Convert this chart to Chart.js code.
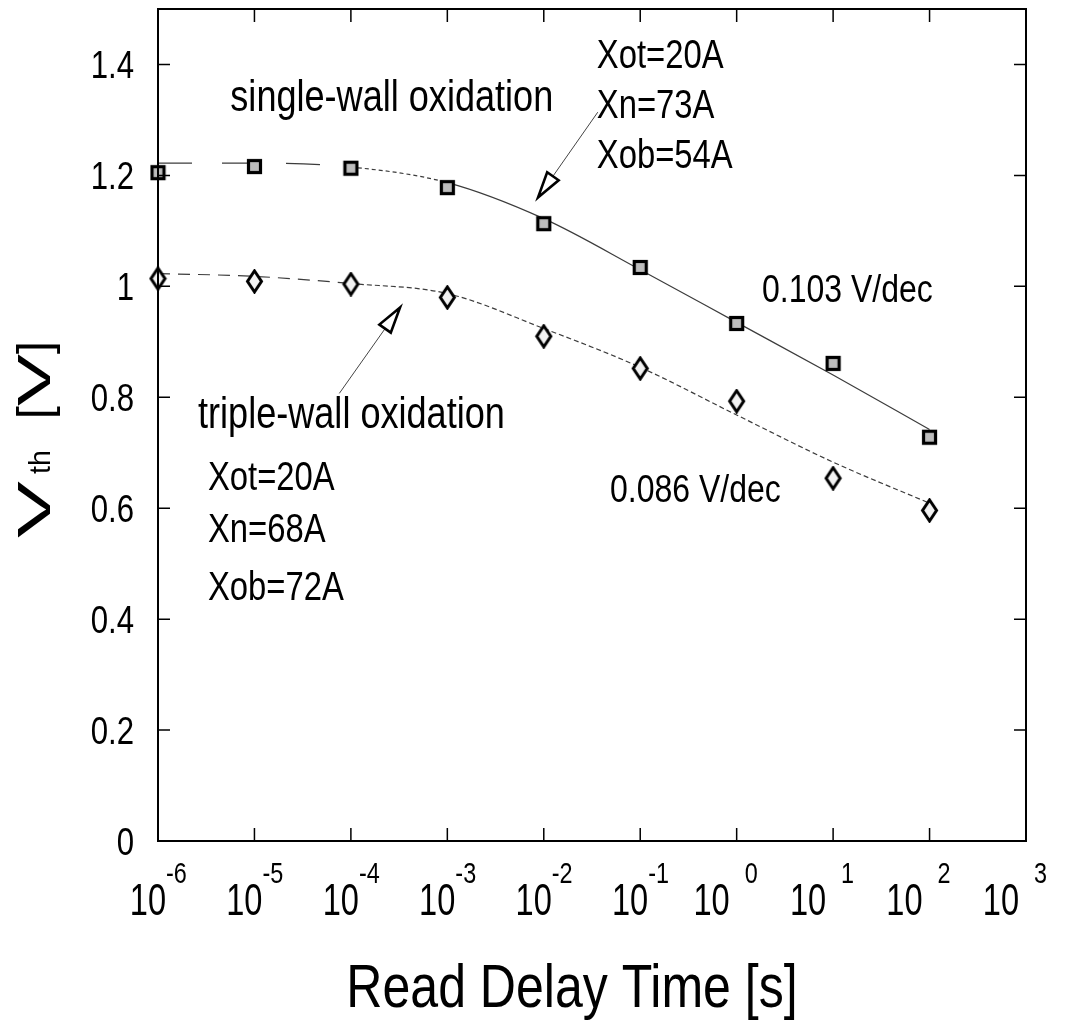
<!DOCTYPE html>
<html>
<head>
<meta charset="utf-8">
<title>Vth vs read delay time</title>
<script src="https://cdn.jsdelivr.net/npm/chart.js@4.4.1/dist/chart.umd.min.js"></script>
<style>
  html, body { margin: 0; padding: 0; background: #fff; }
  canvas { display: block; }
</style>
</head>
<body>
<canvas id="vthChart" width="1065" height="1027"></canvas>
<script>
// read delay times (s), one point per decade
const delayTimes = [1e-6, 1e-5, 1e-4, 1e-3, 1e-2, 1e-1, 1e0, 1e1, 1e2];

// measured Vth (V)
const singleWallVth = [1.205, 1.216, 1.213, 1.178, 1.113, 1.034, 0.933, 0.861, 0.728];
const tripleWallVth = [1.014, 1.009, 1.004, 0.980, 0.910, 0.852, 0.793, 0.654, 0.596];

// fitted curves at each decade
const singleWallFit = [1.222, 1.222, 1.215, 1.187, 1.122, 1.030, 0.935, 0.840, 0.742];
const tripleWallFit = [1.023, 1.018, 1.005, 0.987, 0.924, 0.854, 0.768, 0.683, 0.609];

// axis ticks
const xTickExponents = [-6, -5, -4, -3, -2, -1, 0, 1, 2, 3];
const yTickValues = [0, 0.2, 0.4, 0.6, 0.8, 1.0, 1.2, 1.4];

// Liberation Sans squeezed horizontally stands in for Helvetica Narrow
const FONT = "'Liberation Sans', Arial, sans-serif";
const NARROW_X = 0.82;

// text notes placed in data coordinates (log10 of time, Vth)
const notes = [
  { text: 'single-wall oxidation', logX: -5.25, y: 1.317, size: 44 },
  { text: 'Xot=20A', logX: -1.45, y: 1.393, size: 40 },
  { text: 'Xn=73A', logX: -1.45, y: 1.303, size: 40 },
  { text: 'Xob=54A', logX: -1.45, y: 1.213, size: 40 },
  { text: '0.103 V/dec', logX: 0.263, y: 0.971, size: 39 },
  { text: '0.086 V/dec', logX: -1.313, y: 0.611, size: 39 },
  { text: 'triple-wall oxidation', logX: -5.585, y: 0.744, size: 44 },
  { text: 'Xot=20A', logX: -5.482, y: 0.632, size: 40 },
  { text: 'Xn=68A', logX: -5.482, y: 0.539, size: 40 },
  { text: 'Xob=72A', logX: -5.482, y: 0.434, size: 40 }
];

const arrows = [
  { fromLogX: -1.44, fromY: 1.314, toLogX: -2.06, toY: 1.160 },
  { fromLogX: -4.12, fromY: 0.807, toLogX: -3.49, toY: 0.962 }
];

function makeSquare() {
  const c = document.createElement('canvas');
  c.width = 17; c.height = 17;
  const g = c.getContext('2d');
  g.fillStyle = '#bdbdbd';
  g.fillRect(2, 2, 13, 13);
  g.lineWidth = 3.2;
  g.strokeStyle = '#000';
  g.strokeRect(2.5, 2.5, 12, 12);
  return c;
}

function makeDiamond() {
  const c = document.createElement('canvas');
  c.width = 19; c.height = 25;
  const g = c.getContext('2d');
  g.beginPath();
  g.moveTo(9.5, 2);
  g.lineTo(16.5, 12.5);
  g.lineTo(9.5, 23);
  g.lineTo(2.5, 12.5);
  g.closePath();
  g.fillStyle = '#f2f2f2';
  g.fill();
  g.lineWidth = 3;
  g.strokeStyle = '#000';
  g.stroke();
  return c;
}

function toPoints(values) {
  return delayTimes.map((t, i) => ({ x: t, y: values[i] }));
}

// draws text squeezed by sx; align is 'left' | 'center' | 'right'
function narrowText(ctx, text, x, y, size, align, sx) {
  sx = sx || NARROW_X;
  ctx.font = size + 'px ' + FONT;
  ctx.textAlign = 'left';
  const w = ctx.measureText(text).width * sx;
  let left = x;
  if (align === 'center') left = x - w / 2;
  else if (align === 'right') left = x - w;
  ctx.save();
  ctx.translate(left, y);
  ctx.scale(sx, 1);
  ctx.fillText(text, 0, 0);
  ctx.restore();
  return w;
}

const decorations = {
  id: 'decorations',
  afterDraw(chart) {
    const ctx = chart.ctx;
    const area = chart.chartArea;
    const xs = chart.scales.x;
    const ys = chart.scales.y;
    ctx.save();
    ctx.strokeStyle = '#000';
    ctx.fillStyle = '#000';
    ctx.textBaseline = 'alphabetic';

    // frame
    ctx.lineWidth = 2;
    ctx.strokeRect(area.left, area.top, area.right - area.left, area.bottom - area.top);

    // inward ticks on all four sides
    ctx.lineWidth = 1.5;
    ctx.beginPath();
    xTickExponents.forEach(e => {
      const px = xs.getPixelForValue(Math.pow(10, e));
      ctx.moveTo(px, area.bottom); ctx.lineTo(px, area.bottom - 13);
      ctx.moveTo(px, area.top); ctx.lineTo(px, area.top + 13);
    });
    yTickValues.forEach(v => {
      const py = ys.getPixelForValue(v);
      ctx.moveTo(area.left, py); ctx.lineTo(area.left + 12, py);
      ctx.moveTo(area.right, py); ctx.lineTo(area.right - 12, py);
    });
    ctx.stroke();

    // y tick labels
    yTickValues.forEach(v => {
      narrowText(ctx, String(+v.toFixed(1)), area.left - 24, ys.getPixelForValue(v) + 14, 38, 'right');
    });

    // x tick labels: 10 with superscript exponent
    xTickExponents.forEach(e => {
      const px = xs.getPixelForValue(Math.pow(10, e));
      const expLeft = px + 8;
      narrowText(ctx, '10', e < 0 ? expLeft : expLeft - 15, area.bottom + 74, 44, 'right', 0.74);
      narrowText(ctx, String(e), expLeft, area.bottom + 42, 30, 'left', 0.78);
    });

    // x axis title
    narrowText(ctx, 'Read Delay Time [s]', (area.left + area.right) / 2 - 20, area.bottom + 166, 61, 'center');

    // y axis title, rotated: V_th [V]
    const cy = (area.top + area.bottom) / 2 + 16;
    ctx.save();
    ctx.translate(area.left - 108, cy);
    ctx.rotate(-Math.PI / 2);
    narrowText(ctx, 'V', -97, 0, 46, 'left', 1.85);
    narrowText(ctx, 'th', -33, 0, 30, 'left', 0.95);
    narrowText(ctx, '[', 22, 0, 46, 'left', 1);
    narrowText(ctx, 'V', 35, 0, 46, 'left', 1.7);
    narrowText(ctx, ']', 87, 0, 46, 'left', 1);
    ctx.restore();

    // notes
    notes.forEach(n => {
      narrowText(ctx, n.text, xs.getPixelForValue(Math.pow(10, n.logX)), ys.getPixelForValue(n.y), n.size, 'left');
    });

    // arrows with open triangular heads
    arrows.forEach(a => {
      const x0 = xs.getPixelForValue(Math.pow(10, a.fromLogX));
      const y0 = ys.getPixelForValue(a.fromY);
      const x1 = xs.getPixelForValue(Math.pow(10, a.toLogX));
      const y1 = ys.getPixelForValue(a.toY);
      const ang = Math.atan2(y1 - y0, x1 - x0);
      const headLen = 26, halfW = 7;
      const bx = x1 - headLen * Math.cos(ang);
      const by = y1 - headLen * Math.sin(ang);
      ctx.strokeStyle = '#444';
      ctx.lineWidth = 1;
      ctx.beginPath();
      ctx.moveTo(x0, y0);
      ctx.lineTo(bx, by);
      ctx.stroke();
      ctx.strokeStyle = '#000';
      ctx.lineWidth = 2.6;
      ctx.beginPath();
      ctx.moveTo(x1, y1);
      ctx.lineTo(bx + halfW * Math.sin(ang), by - halfW * Math.cos(ang));
      ctx.lineTo(bx - halfW * Math.sin(ang), by + halfW * Math.cos(ang));
      ctx.closePath();
      ctx.stroke();
    });

    ctx.restore();
  }
};

const squareMark = makeSquare();
const diamondMark = makeDiamond();

function noScalePadding(axis) {
  axis.paddingTop = 0;
  axis.paddingBottom = 0;
  axis.paddingLeft = 0;
  axis.paddingRight = 0;
}

new Chart(document.getElementById('vthChart').getContext('2d'), {
  type: 'line',
  data: {
    datasets: [
      {
        label: 'single-wall oxidation',
        data: toPoints(singleWallVth),
        showLine: false,
        pointStyle: squareMark,
        pointRadius: 8,
        clip: false
      },
      {
        label: 'triple-wall oxidation',
        data: toPoints(tripleWallVth),
        showLine: false,
        pointStyle: diamondMark,
        pointRadius: 8,
        clip: false
      },
      {
        label: 'single-wall fit',
        data: toPoints(singleWallFit),
        borderColor: '#3c3c3c',
        borderWidth: 1.2,
        pointRadius: 0,
        cubicInterpolationMode: 'monotone',
        segment: {
          borderDash: ctx => ctx.p0DataIndex < 2 ? [34, 30] : (ctx.p0DataIndex < 3 ? [4, 3] : [])
        }
      },
      {
        label: 'triple-wall fit',
        data: toPoints(tripleWallFit),
        borderColor: '#3c3c3c',
        borderWidth: 1.2,
        pointRadius: 0,
        cubicInterpolationMode: 'monotone',
        segment: {
          borderDash: ctx => ctx.p0DataIndex < 2 ? [12, 8] : [5, 3]
        }
      }
    ]
  },
  options: {
    responsive: false,
    animation: false,
    layout: { padding: { left: 0, right: 39, top: 8, bottom: 0 } },
    plugins: {
      legend: { display: false },
      tooltip: { enabled: false }
    },
    scales: {
      x: {
        type: 'logarithmic',
        min: 1e-6,
        max: 1e3,
        afterBuildTicks: axis => { axis.ticks = xTickExponents.map(e => ({ value: Math.pow(10, e) })); },
        afterFit: axis => { axis.height = 186; noScalePadding(axis); },
        grid: { display: false, drawTicks: false },
        border: { display: false },
        ticks: { display: false }
      },
      y: {
        min: 0,
        max: 1.5,
        afterBuildTicks: axis => { axis.ticks = yTickValues.map(v => ({ value: v })); },
        afterFit: axis => { axis.width = 158; noScalePadding(axis); },
        grid: { display: false, drawTicks: false },
        border: { display: false },
        ticks: { display: false }
      }
    }
  },
  plugins: [decorations]
});
</script>
</body>
</html>
